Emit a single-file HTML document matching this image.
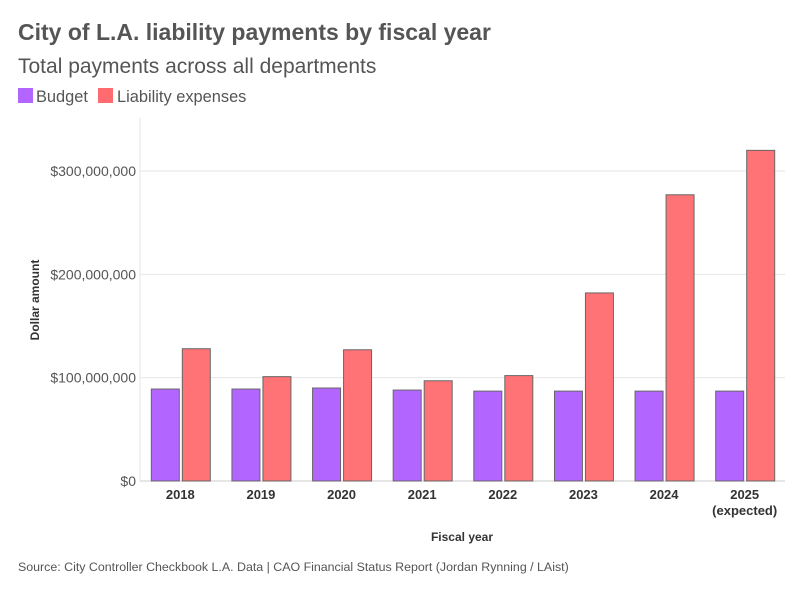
<!DOCTYPE html>
<html><head><meta charset="utf-8"><style>
body{margin:0;background:#fff;font-family:"Liberation Sans",sans-serif;}
svg text{font-family:"Liberation Sans",sans-serif;}
</style></head><body>
<svg width="794" height="587">
<text x="18" y="40" font-size="23" font-weight="bold" fill="#555">City of L.A. liability payments by fiscal year</text>
<text x="18" y="73" font-size="21" fill="#555">Total payments across all departments</text>
<g>
<rect x="18" y="88" width="15" height="15" fill="#b266ff"/>
<text x="36" y="102" font-size="16.4" fill="#555">Budget</text>
<rect x="98" y="88" width="15" height="15" fill="#ff6b6e"/>
<text x="117" y="102" font-size="16.4" fill="#555">Liability expenses</text>
</g>
<line x1="140" y1="118" x2="140" y2="481" stroke="#e6e6e6"/>
<g id="grid"></g><g id="bars"></g><g id="xlab"></g>
<text transform="translate(39,300) rotate(-90)" text-anchor="middle" font-size="12" font-weight="bold" fill="#333">Dollar amount</text>
<text x="462" y="541" text-anchor="middle" font-size="12" font-weight="bold" fill="#333">Fiscal year</text>
<text x="18" y="571" font-size="12.4" fill="#555">Source: City Controller Checkbook L.A. Data | CAO Financial Status Report (Jordan Rynning / LAist)</text>
</svg>
<script>
const categories=["2018","2019","2020","2021","2022","2023","2024","2025"];
const budget=[89,89,90,88,87,87,87,87];
const liability=[128,101,127,97,102,182,277,320];
const yTicks=[0,100,200,300];
const yTickLabels=["$0","$100,000,000","$200,000,000","$300,000,000"];
const NS="http://www.w3.org/2000/svg";
const x0=140,x1=785,y0=481,pxPer=1.0333;
const y=v=>y0-v*pxPer;
const bw=(x1-x0)/categories.length;
function mk(t,a,p){const e=document.createElementNS(NS,t);for(const k in a)e.setAttribute(k,a[k]);p.appendChild(e);return e;}
const g=document.getElementById('grid');
yTicks.forEach((t,i)=>{
 const l=mk('line',{x1:x0,x2:x1,y1:y(t),y2:y(t),stroke:i==0?'#ccc':'#e6e6e6'},g);
 
 
 const tx=mk('text',{x:136,y:y(t)+5,'text-anchor':'end','font-size':14,fill:'#555'},g);
 tx.textContent=yTickLabels[i];
 
 
});
const b=document.getElementById('bars'),xl=document.getElementById('xlab');
categories.forEach((c,i)=>{
 const cx=x0+bw*(i+0.5);
 const r1=mk('rect',{x:cx-29,y:y(budget[i]),width:28,height:y0-y(budget[i]),fill:'#b266ff',stroke:'#666','stroke-width':1},b);
 
 
 const r2=mk('rect',{x:cx+2,y:y(liability[i]),width:28,height:y0-y(liability[i]),fill:'#ff7276',stroke:'#666','stroke-width':1},b);
 
 
 const t=mk('text',{x:cx,y:499,'text-anchor':'middle','font-size':13,'font-weight':'bold',fill:'#333'},xl);
 t.textContent=c;
 
 
 if(i==categories.length-1){const t2=mk('text',{x:cx,y:515,'text-anchor':'middle','font-size':13,'font-weight':'bold',fill:'#333'},xl);t2.textContent='(expected)';
 
 }
});
</script>
</body></html>
